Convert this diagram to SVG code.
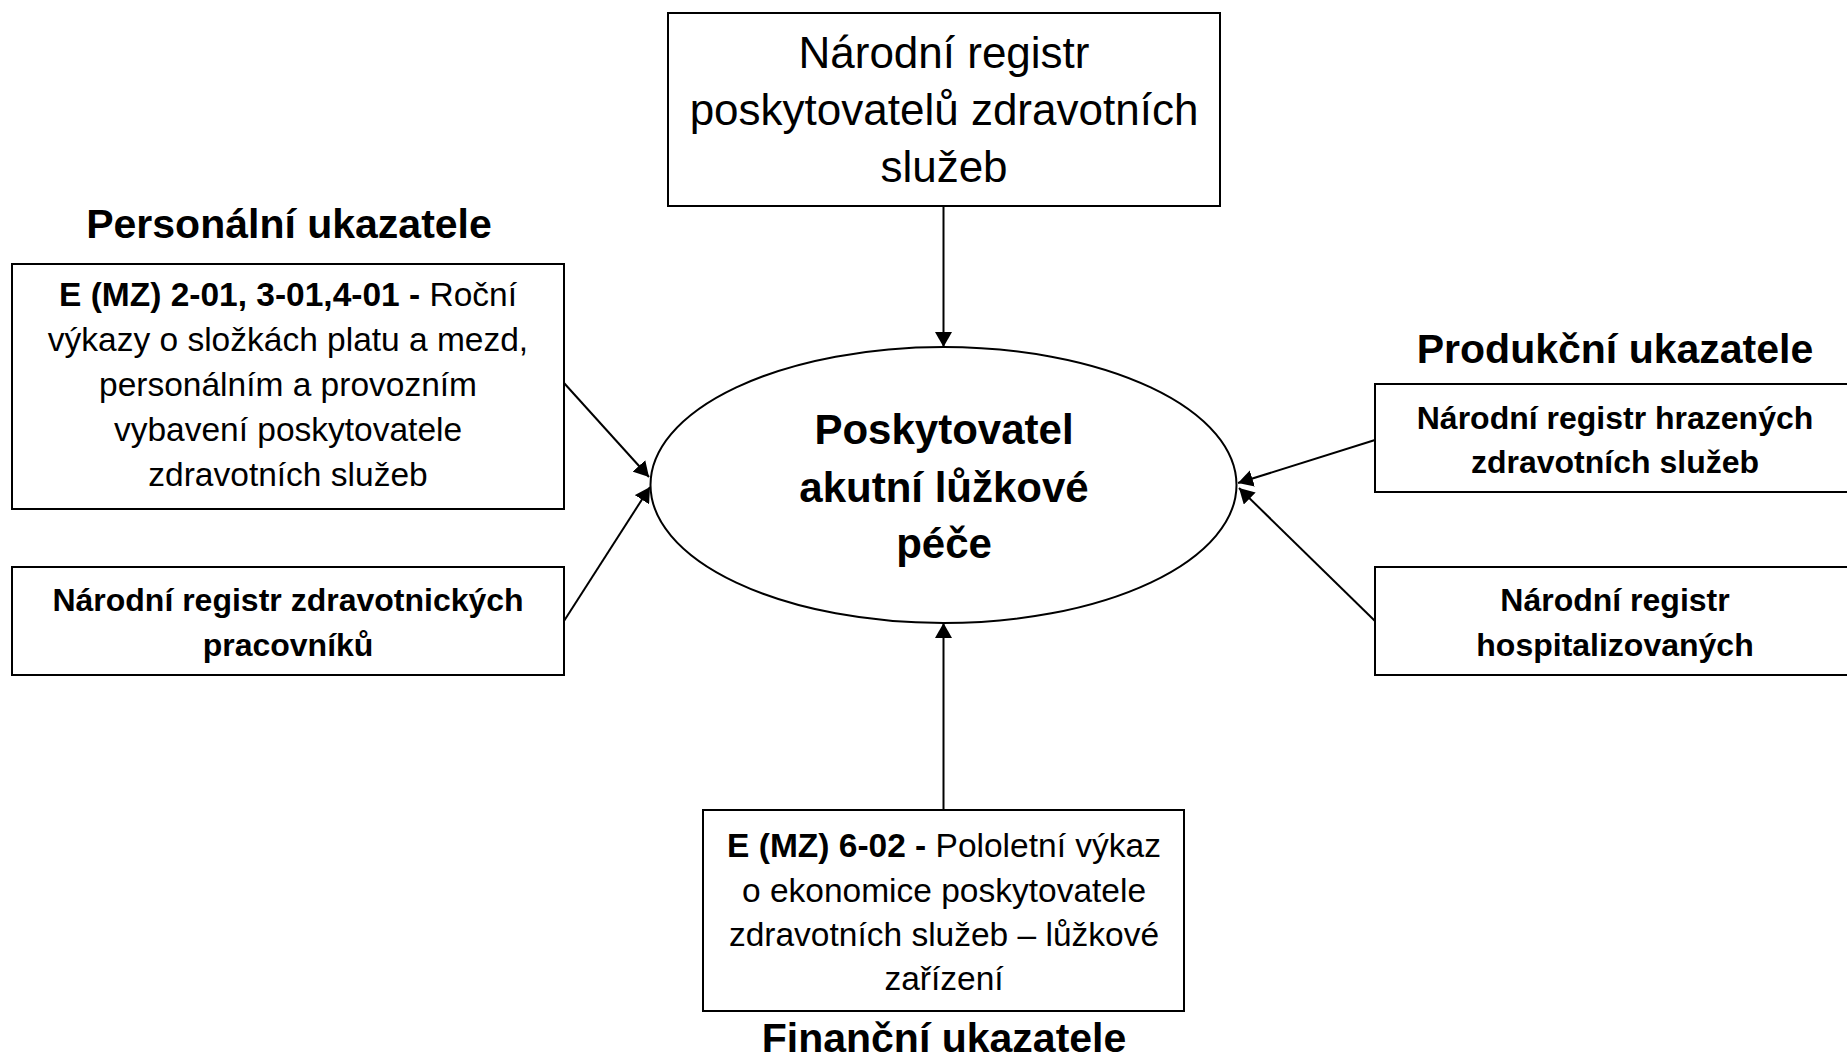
<svg xmlns="http://www.w3.org/2000/svg" width="1847" height="1062" viewBox="0 0 1847 1062">
<defs>
<marker id="arr" viewBox="0 0 15 17" refX="15" refY="8.5" markerWidth="15" markerHeight="17" markerUnits="userSpaceOnUse" orient="auto">
<path d="M0,0 L15,8.5 L0,17 z" fill="#000"/>
</marker>
<style>
.box{fill:#fff;stroke:#000;stroke-width:2}
.t{font-family:"Liberation Sans",Arial,sans-serif;fill:#000;text-anchor:middle}
.big{font-size:44px}
.sm{font-size:33.5px}
.smb{font-size:32px;font-weight:bold}
.b{font-weight:bold}
.hd{font-size:41px;font-weight:bold}
.ct{font-size:42px;font-weight:bold}
.con{stroke:#000;stroke-width:2;fill:none;marker-end:url(#arr)}
</style>
</defs>
<rect width="1847" height="1062" fill="#fff"/>
<g id="connectors">
<line class="con" x1="943.5" y1="206" x2="943.5" y2="347"/>
<line class="con" x1="564" y1="383" x2="649" y2="477"/>
<line class="con" x1="564" y1="621" x2="650" y2="487"/>
<line class="con" x1="1375" y1="440" x2="1238" y2="483"/>
<line class="con" x1="1375" y1="621" x2="1239" y2="488"/>
<line class="con" x1="943.5" y1="810" x2="943.5" y2="623"/>
</g>
<g id="top-box">
<rect class="box" x="668" y="13" width="552" height="193"/>
<text class="t big" x="944" y="68">Národní registr</text>
<text class="t big" x="944" y="125">poskytovatelů zdravotních</text>
<text class="t big" x="944" y="182">služeb</text>
</g>
<g id="center">
<ellipse class="box" cx="943.5" cy="485" rx="293" ry="138"/>
<text class="t ct" x="944" y="444">Poskytovatel</text>
<text class="t ct" x="944" y="502">akutní lůžkové</text>
<text class="t ct" x="944" y="558">péče</text>
</g>
<g id="heading-personal">
<text class="t hd" x="289" y="238">Personální ukazatele</text>
</g>
<g id="left-box-1">
<rect class="box" x="12" y="264" width="552" height="245"/>
<text class="t sm" x="288" y="306"><tspan class="b">E (MZ) 2-01, 3-01,4-01 -</tspan> Roční</text>
<text class="t sm" x="288" y="351">výkazy o složkách platu a mezd,</text>
<text class="t sm" x="288" y="396">personálním a provozním</text>
<text class="t sm" x="288" y="441">vybavení poskytovatele</text>
<text class="t sm" x="288" y="486">zdravotních služeb</text>
</g>
<g id="left-box-2">
<rect class="box" x="12" y="567" width="552" height="108"/>
<text class="t smb" x="288" y="611">Národní registr zdravotnických</text>
<text class="t smb" x="288" y="656">pracovníků</text>
</g>
<g id="heading-production">
<text class="t hd" x="1615" y="363">Produkční ukazatele</text>
</g>
<g id="right-box-1">
<rect class="box" x="1375" y="384" width="480" height="108"/>
<text class="t smb" x="1615" y="429">Národní registr hrazených</text>
<text class="t smb" x="1615" y="473">zdravotních služeb</text>
</g>
<g id="right-box-2">
<rect class="box" x="1375" y="567" width="480" height="108"/>
<text class="t smb" x="1615" y="611">Národní registr</text>
<text class="t smb" x="1615" y="656">hospitalizovaných</text>
</g>
<g id="bottom-box">
<rect class="box" x="703" y="810" width="481" height="201"/>
<text class="t sm" x="944" y="857"><tspan class="b">E (MZ) 6-02 -</tspan> Pololetní výkaz</text>
<text class="t sm" x="944" y="902">o ekonomice poskytovatele</text>
<text class="t sm" x="944" y="946">zdravotních služeb – lůžkové</text>
<text class="t sm" x="944" y="990">zařízení</text>
</g>
<g id="heading-financial">
<text class="t hd" x="944" y="1052">Finanční ukazatele</text>
</g>
</svg>
